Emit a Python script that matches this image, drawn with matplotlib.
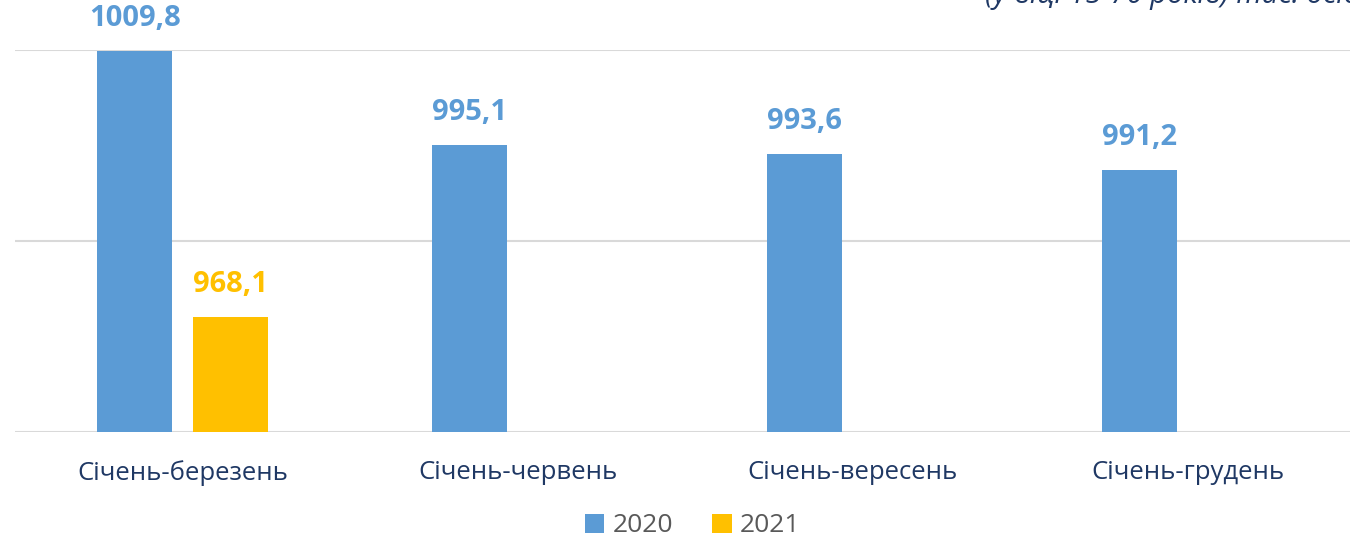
import numpy as np
import matplotlib.pyplot as plt

categories = ["Січень-березень", "Січень-червень", "Січень-вересень", "Січень-грудень"]
values_2020 = [1009.8, 995.1, 993.6, 991.2]
values_2021 = [968.1, np.nan, np.nan, np.nan]
series_names = ["2020", "2021"]
note = "(у віці 15-70 років) тис. осіб"

blue = "#5B9BD5"
gold = "#FFC000"
navy = "#1F3864"

plt.rcParams["font.family"] = ["Open Sans", "DejaVu Sans"]

fig = plt.figure(figsize=(13.5, 5.41), dpi=100)
ax = fig.add_axes([15 / 1350, 109 / 541, 1340 / 1350, 382 / 541])

x = np.arange(len(categories))
w = 0.224
off = 0.143
b1 = ax.bar(x - off, values_2020, w, color=blue, label=series_names[0], zorder=3)
b2 = ax.bar(x + off, values_2021, w, color=gold, label=series_names[1], zorder=3)

for bars, vals, col in [(b1, values_2020, blue), (b2, values_2021, gold)]:
    for rect, v in zip(bars, vals):
        if np.isnan(v):
            continue
        ax.annotate(f"{v:.1f}".replace(".", ","),
                    (rect.get_x() + rect.get_width() / 2, v),
                    xytext=(0, 13), textcoords="offset points",
                    ha="center", va="bottom", fontsize=21, fontweight="bold", color=col)

ax.set_ylim(950, 1010)
ax.set_xlim(-0.5, 3.5)
ax.set_yticks([950, 980, 1010])
ax.set_yticklabels([])
ax.tick_params(left=False, bottom=False)
ax.grid(axis="y", color="#D9D9D9", linewidth=1.5, zorder=0)
for s in ax.spines.values():
    s.set_visible(False)
ax.set_xticks(x)
ax.set_xticklabels(categories, fontsize=18.5, color=navy)
ax.tick_params(axis="x", pad=17)

leg = fig.legend(handles=[b1, b2], loc="center", bbox_to_anchor=(0.513, 15 / 541),
                 ncol=2, frameon=False, fontsize=19, handlelength=0.75, handleheight=0.75,
                 handletextpad=0.3, columnspacing=1.5)
for t in leg.get_texts():
    t.set_color("#595959")

fig.text(985 / 1350, 1 - 3 / 541, note, fontsize=21, style="italic", color=navy,
         ha="left", va="baseline")

fig.savefig("out.png", dpi=100)
